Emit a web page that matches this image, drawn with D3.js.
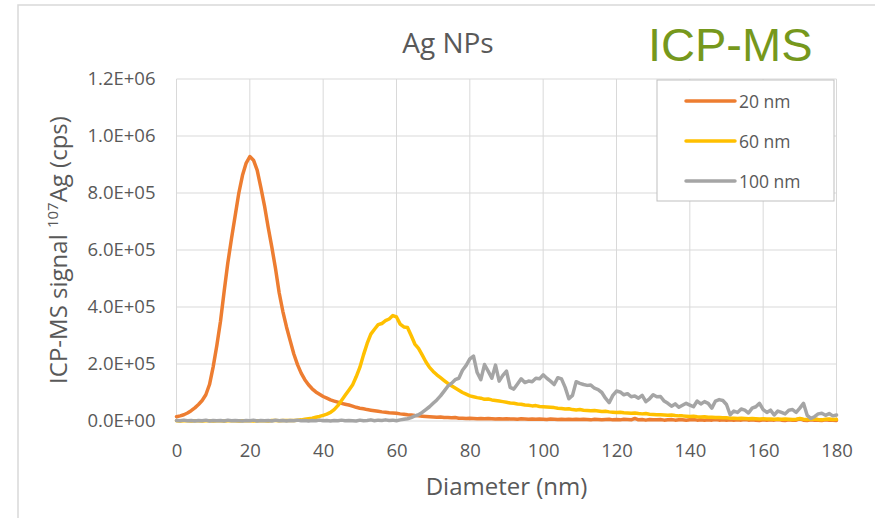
<!DOCTYPE html>
<html>
<head>
<meta charset="utf-8">
<script src="https://cdn.jsdelivr.net/npm/d3@7/dist/d3.min.js"></script>
<style>
  body { margin: 0; background: #ffffff; }
  svg { display: block; }
  text { font-family: "Open Sans", "DejaVu Sans", sans-serif; fill: #595959; }
</style>
</head>
<body>
<svg id="chart" width="875" height="518"></svg>
<script>
// Particle size distributions of Ag nanoparticles measured by single-particle ICP-MS.
// Diameter bins (nm), one value per 1 nm bin from 0 to 180 nm.
const diameters = d3.range(0, 181);

// 107Ag signal per bin, in thousands of counts per second (kcps).
const signal20nm = [
  15, 18, 22, 28, 36, 46, 58, 72, 92, 128, 190,
  265, 350, 455, 555, 640, 720, 800, 862, 905, 928,
  915, 880, 820, 755, 680, 610, 535, 450, 385, 330,
  282, 235, 198, 168, 145, 127, 113, 102, 94, 86,
  80, 74, 70, 66, 62, 59, 56, 52, 48, 45,
  43, 40, 38, 36, 34, 32, 31, 29, 28, 27,
  25, 24, 22, 21, 19, 18, 17, 16, 15, 14,
  13, 14, 12, 12, 11, 12, 10, 10, 9, 10,
  9, 8, 9, 8, 9, 8, 7, 8, 7, 8,
  7, 7, 6, 8, 7, 6, 7, 6, 7, 6,
  5, 7, 6, 5, 6, 5, 6, 5, 6, 5,
  6, 5, 4, 6, 5, 4, 5, 6, 4, 5,
  4, 6, 5, 4, 9, 4, 5, 3, 5, 4,
  4, 5, 3, 4, 5, 3, 4, 4, 3, 4,
  5, 3, 4, 3, 4, 3, 5, 3, 4, 3,
  4, 3, 4, 3, 5, 3, 4, 3, 2, 4,
  3, 4, 3, 5, 3, 2, 4, 3, 3, 8,
  3, 2, 4, 3, 3, 2, 4, 3, 3, 2
];

const signal60nm = [
  1, 0, 1, 1, 0, 1, 1, 0, 1, 1, 0,
  1, 1, 0, 1, 1, 1, 0, 1, 1, 1,
  0, 1, 1, 1, 0, 2, 2, 1, 2, 2,
  2, 2, 3, 4, 6, 8, 10, 13, 16, 20,
  24, 30, 40, 54, 72, 90, 108, 126, 155, 188,
  232, 272, 305, 322, 338, 342, 352, 358, 370, 365,
  340, 330, 328, 300, 270, 255, 232, 208, 188, 174,
  162, 152, 142, 132, 124, 116, 108, 100, 94, 88,
  85, 82, 80, 76, 77, 74, 72, 70, 68, 66,
  63, 62, 60, 59, 56, 55, 53, 54, 51, 50,
  49, 48, 47, 45, 44, 42, 43, 40, 39, 40,
  38, 37, 36, 37, 35, 33, 34, 32, 31, 30,
  31, 29, 28, 27, 28, 26, 25, 26, 24, 23,
  22, 22, 21, 20, 21, 19, 18, 18, 17, 16,
  17, 15, 14, 15, 13, 13, 12, 12, 11, 11,
  10, 10, 9, 10, 9, 8, 9, 8, 7, 8,
  7, 7, 6, 7, 6, 7, 6, 5, 6, 9,
  6, 5, 6, 7, 5, 4, 6, 7, 5, 6
];

const signal100nm = [
  2, 1, 3, 1, 2, 0, 2, 1, 3, 0, 2,
  1, 2, 0, 3, 1, 2, 1, 0, 2, 1,
  3, 0, 2, 1, 2, 0, 3, 1, 2, 0,
  2, 1, 3, 1, 2, 0, 2, 1, 3, 1,
  2, 0, 2, 1, 3, 1, 2, 1, 0, 3,
  1, 2, 4, 1, 3, 2, 4, 2, 3, 1,
  4, 6, 8, 12, 18, 22, 30, 40, 50, 62,
  74, 88, 105, 122, 132, 145, 150, 178, 195, 218,
  228, 170, 145, 198, 175, 150, 196, 140, 160, 175,
  118, 112, 130, 148, 135, 140, 138, 150, 148, 162,
  150, 140, 128, 152, 148, 118, 78, 90, 138, 132,
  128, 125, 126, 115, 110, 100, 80, 64, 90, 105,
  102, 92, 96, 85, 88, 80, 90, 68, 78, 92,
  85, 86, 70, 62, 52, 60, 48, 55, 62, 56,
  50, 70, 60, 68, 62, 45, 70, 75, 72, 58,
  22, 35, 30, 42, 38, 28, 45, 50, 62, 40,
  30, 38, 21, 35, 30, 25, 38, 40, 30, 45,
  62, 20, 9, 15, 25, 27, 20, 26, 18, 21
];
const kcps = 1000;

const seriesNames = ["20 nm", "60 nm", "100 nm"];
const seriesColors = ["#ED7D31", "#FFC000", "#A5A5A5"];
const seriesValues = [signal20nm, signal60nm, signal100nm];

const xTicks = [0, 20, 40, 60, 80, 100, 120, 140, 160, 180];
const yTicks = [0, 2e5, 4e5, 6e5, 8e5, 1e6, 1.2e6];
const yTickLabels = ["0.0E+00", "2.0E+05", "4.0E+05", "6.0E+05", "8.0E+05", "1.0E+06", "1.2E+06"];

const chartTitle = "Ag NPs";
const techniqueLabel = "ICP-MS";
const xAxisTitle = "Diameter (nm)";

const svg = d3.select("#chart");

// Outer chart frame
svg.append("path")
  .attr("d", "M18,520 L18,5 L880,5")
  .attr("fill", "none")
  .attr("stroke", "#d9d9d9")
  .attr("stroke-width", 1.5);

const plot = { left: 176.5, right: 836.5, top: 79, bottom: 421 };

const x = d3.scaleLinear().domain([0, 180]).range([plot.left, plot.right]);
const y = d3.scaleLinear().domain([0, 1.2e6]).range([plot.bottom, plot.top]);

// Gridlines
const grid = svg.append("g").attr("stroke", "#d9d9d9").attr("stroke-width", 1);
grid.selectAll("line.h").data(yTicks).join("line")
  .attr("x1", plot.left).attr("x2", plot.right)
  .attr("y1", d => y(d)).attr("y2", d => y(d));
grid.selectAll("line.v").data(xTicks).join("line")
  .attr("x1", d => x(d)).attr("x2", d => x(d))
  .attr("y1", plot.top).attr("y2", plot.bottom);

// Axes (labels only; gridlines drawn above)
const yAxis = svg.append("g")
  .attr("transform", `translate(${plot.left},0)`)
  .call(d3.axisLeft(y).tickValues(yTicks)
    .tickFormat((d, i) => yTickLabels[i]).tickSize(0).tickPadding(21));
yAxis.select(".domain").remove();
yAxis.selectAll("text")
  .style("font-family", "'Open Sans', sans-serif")
  .style("font-size", "18.5px")
  .attr("fill", "#595959");

const xAxis = svg.append("g")
  .attr("transform", `translate(0,${plot.bottom})`)
  .call(d3.axisBottom(x).tickValues(xTicks).tickFormat(d3.format("d"))
    .tickSize(0).tickPadding(23));
xAxis.select(".domain").remove();
xAxis.selectAll("text")
  .style("font-family", "'Open Sans', sans-serif")
  .style("font-size", "18.5px")
  .attr("fill", "#595959");

// Series lines
const line = d3.line()
  .x((d, i) => x(diameters[i]))
  .y(d => y(d * kcps));

svg.append("g").selectAll("path")
  .data(seriesValues)
  .join("path")
  .attr("d", d => line(d))
  .attr("fill", "none")
  .attr("stroke", (d, i) => seriesColors[i])
  .attr("stroke-width", 3.5)
  .attr("stroke-linejoin", "round")
  .attr("stroke-linecap", "round");

// Titles
svg.append("text")
  .attr("x", 448).attr("y", 53)
  .attr("text-anchor", "middle")
  .style("font-size", "28px")
  .text(chartTitle);

svg.append("text")
  .attr("x", 648).attr("y", 61)
  .style("font-family", "'Liberation Sans', Arial, sans-serif")
  .style("font-size", "47px")
  .style("fill", "#76981c")
  .text(techniqueLabel);

svg.append("text")
  .attr("x", (plot.left + plot.right) / 2).attr("y", 495)
  .attr("text-anchor", "middle")
  .style("font-size", "24px")
  .text(xAxisTitle);

const yTitle = svg.append("text")
  .attr("transform", `translate(67,${(plot.top + plot.bottom) / 2}) rotate(-90)`)
  .attr("text-anchor", "middle")
  .style("font-size", "24px");
yTitle.append("tspan").text("ICP-MS signal ");
yTitle.append("tspan").attr("dy", -9).style("font-size", "15px").text("107");
yTitle.append("tspan").attr("dy", 9).text("Ag (cps)");

// Legend
const legend = svg.append("g");
legend.append("rect")
  .attr("x", 657).attr("y", 80).attr("width", 177).attr("height", 121)
  .attr("fill", "#ffffff").attr("stroke", "#bfbfbf").attr("stroke-width", 1);
const legendItems = legend.selectAll("g.item")
  .data(seriesNames)
  .join("g")
  .attr("transform", (d, i) => `translate(0,${101 + i * 40})`);
legendItems.append("line")
  .attr("x1", 686).attr("x2", 735)
  .attr("stroke", (d, i) => seriesColors[i])
  .attr("stroke-width", 3.5)
  .attr("stroke-linecap", "round");
legendItems.append("text")
  .attr("x", 739).attr("y", 6.5)
  .style("font-size", "17.5px")
  .text(d => d);
</script>
</body>
</html>
